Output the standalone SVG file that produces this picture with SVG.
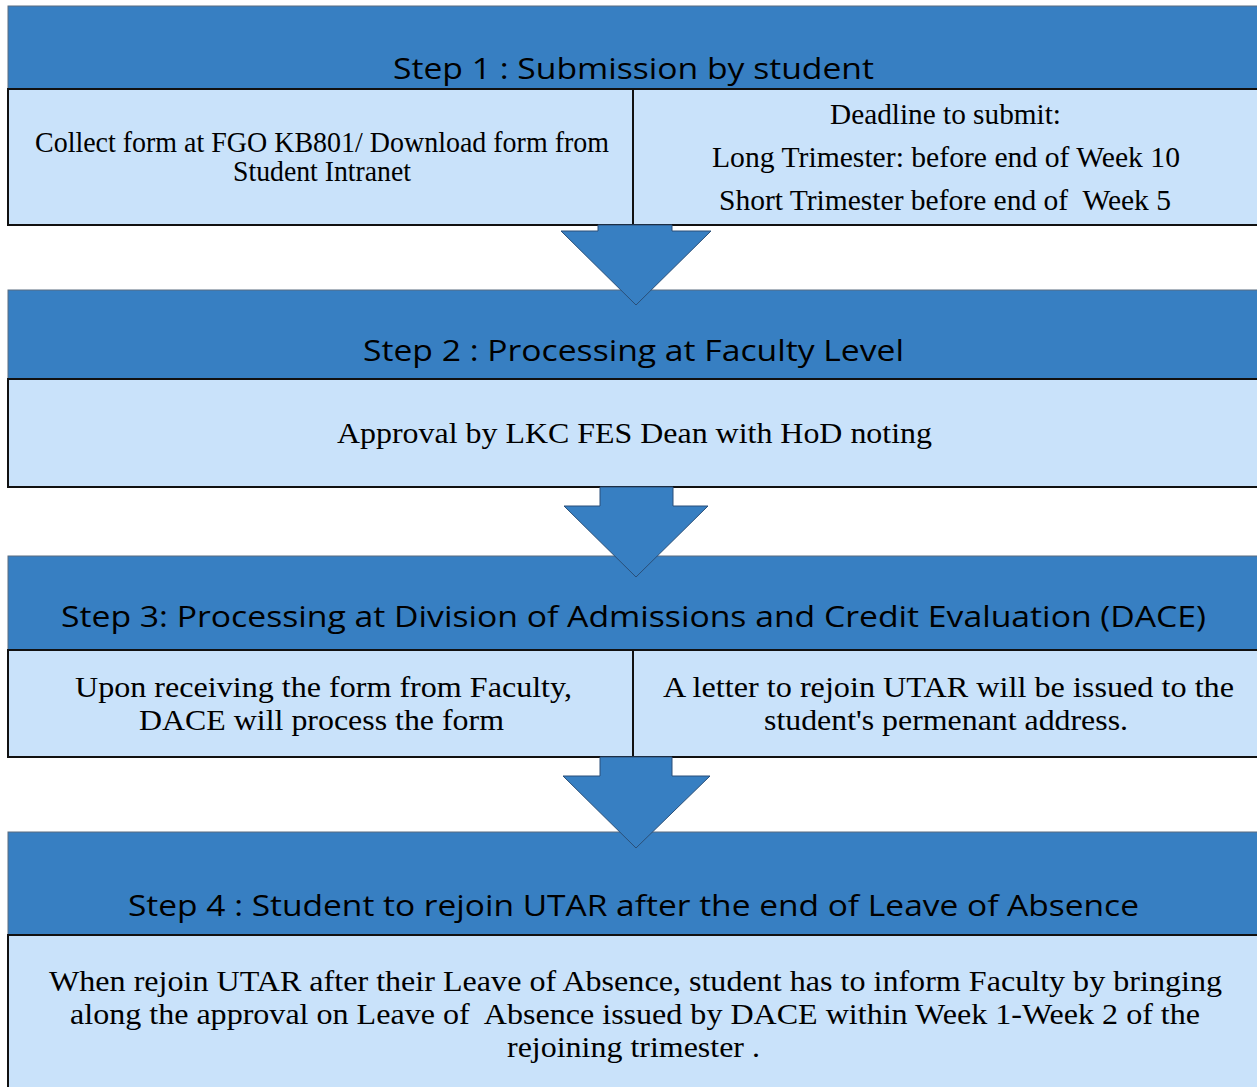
<svg xmlns="http://www.w3.org/2000/svg" width="1257" height="1087" viewBox="0 0 1257 1087">
<style>
.hdr{fill:#377fc2;stroke:#5a6d80;stroke-width:1}
.body{fill:#c9e2fa;stroke:#111;stroke-width:2}
.arrow{fill:#377fc2;stroke:#2a4f78;stroke-width:1}
.ht{font-family:"Open Sans","DejaVu Sans",sans-serif;font-size:29px;fill:#000}
.bt{font-family:"Liberation Serif","Times New Roman",serif;font-size:29px;fill:#000}
</style>
<rect width="1257" height="1087" fill="#fff"/>
<g id="step1">
<rect class="hdr" x="8" y="6" width="1260" height="83"/>
<text class="ht" x="393" y="79" textLength="481" lengthAdjust="spacingAndGlyphs">Step 1 : Submission by student</text>
<rect class="body" x="8" y="89" width="625" height="136"/>
<rect class="body" x="633" y="89" width="630" height="136"/>
<text class="bt" x="35" y="152" textLength="574" lengthAdjust="spacingAndGlyphs">Collect form at FGO KB801/ Download form from</text>
<text class="bt" x="233" y="181" textLength="178" lengthAdjust="spacingAndGlyphs">Student Intranet</text>
<text class="bt" x="830" y="124" textLength="231" lengthAdjust="spacingAndGlyphs">Deadline to submit:</text>
<text class="bt" x="712" y="167" textLength="468" lengthAdjust="spacingAndGlyphs">Long Trimester: before end of Week 10</text>
<text class="bt" x="719" y="210" textLength="452" lengthAdjust="spacingAndGlyphs" xml:space="preserve">Short Trimester before end of  Week 5</text>
</g>
<g id="step2">
<rect class="hdr" x="8" y="290" width="1260" height="89"/>
<text class="ht" x="363" y="361" textLength="541" lengthAdjust="spacingAndGlyphs">Step 2 : Processing at Faculty Level</text>
<rect class="body" x="8" y="379" width="1260" height="108"/>
<text class="bt" x="337" y="443" textLength="595" lengthAdjust="spacingAndGlyphs">Approval by LKC FES Dean with HoD noting</text>
</g>
<g id="step3">
<rect class="hdr" x="8" y="556" width="1260" height="94"/>
<text class="ht" x="61" y="627" textLength="1145" lengthAdjust="spacingAndGlyphs">Step 3: Processing at Division of Admissions and Credit Evaluation (DACE)</text>
<rect class="body" x="8" y="650" width="625" height="107"/>
<rect class="body" x="633" y="650" width="630" height="107"/>
<text class="bt" x="75" y="697" textLength="497" lengthAdjust="spacingAndGlyphs">Upon receiving the form from Faculty,</text>
<text class="bt" x="139" y="730" textLength="365" lengthAdjust="spacingAndGlyphs">DACE will process the form</text>
<text class="bt" x="663" y="697" textLength="571" lengthAdjust="spacingAndGlyphs">A letter to rejoin UTAR will be issued to the</text>
<text class="bt" x="764" y="730" textLength="364" lengthAdjust="spacingAndGlyphs">student's permenant address.</text>
</g>
<g id="step4">
<rect class="hdr" x="8" y="832" width="1260" height="103"/>
<text class="ht" x="128" y="916" textLength="1011" lengthAdjust="spacingAndGlyphs">Step 4 : Student to rejoin UTAR after the end of Leave of Absence</text>
<rect class="body" x="8" y="935" width="1260" height="160"/>
<text class="bt" x="49" y="991" textLength="1173" lengthAdjust="spacingAndGlyphs">When rejoin UTAR after their Leave of Absence, student has to inform Faculty by bringing</text>
<text class="bt" x="70" y="1024" textLength="1130" lengthAdjust="spacingAndGlyphs" xml:space="preserve">along the approval on Leave of  Absence issued by DACE within Week 1-Week 2 of the</text>
<text class="bt" x="507" y="1057" textLength="253" lengthAdjust="spacingAndGlyphs">rejoining trimester .</text>
</g>
<g id="connectors">
<polygon class="arrow" points="598,225 672,225 672,231 711,231 636,305 561,231 598,231"/>
<polygon class="arrow" points="600,487 673,487 673,506 708,506 636,577 564,506 600,506"/>
<polygon class="arrow" points="600,757 672,757 672,776 710,776 636,848 563,776 600,776"/>
</g>
</svg>
